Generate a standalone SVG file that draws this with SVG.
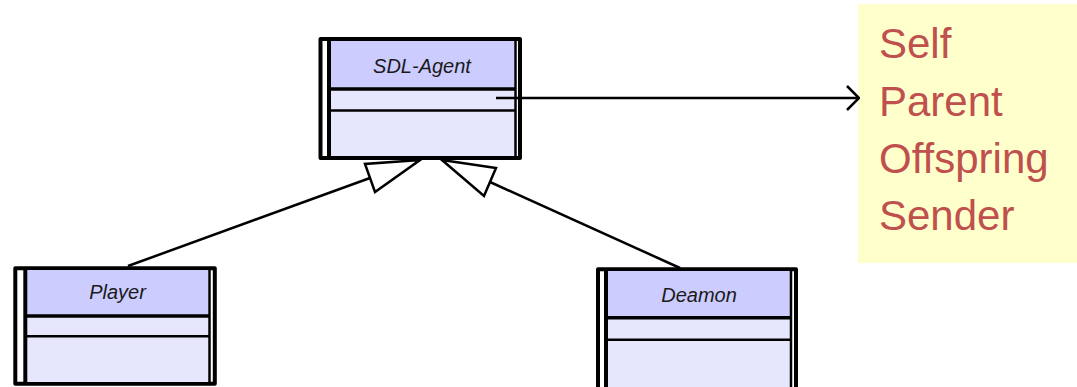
<svg xmlns="http://www.w3.org/2000/svg" width="1077" height="387" viewBox="0 0 1077 387">
  <style>
    .frame { fill: #ffffff; stroke: #000000; stroke-width: 4; stroke-linejoin: round; }
    .head { fill: #ccccff; }
    .body { fill: #e6e6fc; }
    .bar { stroke: #000000; stroke-width: 4; }
    .thin { stroke: #000000; stroke-width: 2.5; }
    .div1 { stroke: #000000; stroke-width: 3.5; }
    .div2 { stroke: #000000; stroke-width: 2.5; }
    .cname { font-family: "Liberation Sans", Arial, sans-serif; font-style: italic; font-size: 20px; fill: #1a1a1a; text-anchor: middle; }
    .note { fill: #ffffcc; }
    .ntext { font-family: "Liberation Sans", Arial, sans-serif; font-size: 42px; fill: #c0504d; }
    .edge { stroke: #000000; stroke-width: 2.5; fill: none; }
    .tri { stroke: #000000; stroke-width: 2.5; fill: #ffffff; stroke-linejoin: miter; }
  </style>
  <defs>
    <marker id="open" viewBox="0 0 14 26" refX="13" refY="13" markerWidth="14" markerHeight="26" markerUnits="userSpaceOnUse" orient="auto">
      <path d="M1,1 L13,13 L1,25" fill="none" stroke="#000000" stroke-width="2.5"/>
    </marker>
  </defs>

  <!-- attribute note -->
  <g id="note">
    <rect class="note" x="858" y="4" width="219" height="259"/>
    <text class="ntext" x="879" y="58">Self</text>
    <text class="ntext" x="879" y="116">Parent</text>
    <text class="ntext" x="879" y="173">Offspring</text>
    <text class="ntext" x="879" y="230">Sender</text>
  </g>

  <!-- active class SDL-Agent -->
  <g id="sdl-agent">
    <rect class="frame" x="320.5" y="39" width="199.5" height="119"/>
    <rect class="head" x="331" y="41" width="183.5" height="48"/>
    <rect class="body" x="331" y="89" width="183.5" height="67"/>
    <line class="bar" x1="329" y1="39" x2="329" y2="158"/>
    <line class="thin" x1="515.5" y1="39" x2="515.5" y2="158"/>
    <line class="div1" x1="331" y1="89" x2="515" y2="89"/>
    <line class="div2" x1="331" y1="110.5" x2="515" y2="110.5"/>
    <text class="cname" x="422" y="73">SDL-Agent</text>
  </g>

  <!-- active class Player -->
  <g id="player">
    <rect class="frame" x="15.3" y="268.3" width="199.5" height="115.4"/>
    <rect class="head" x="27" y="270" width="181.5" height="46"/>
    <rect class="body" x="27" y="316" width="181.5" height="66"/>
    <line class="bar" x1="25.3" y1="268.3" x2="25.3" y2="383.7"/>
    <line class="thin" x1="209.5" y1="268.3" x2="209.5" y2="383.7"/>
    <line class="div1" x1="27" y1="316" x2="210" y2="316"/>
    <line class="div2" x1="27" y1="336.3" x2="210" y2="336.3"/>
    <text class="cname" x="117.5" y="299">Player</text>
  </g>

  <!-- active class Deamon -->
  <g id="deamon">
    <rect class="frame" x="598" y="269.3" width="198" height="125"/>
    <rect class="head" x="608" y="271" width="182" height="47"/>
    <rect class="body" x="608" y="318" width="182" height="72"/>
    <line class="bar" x1="606" y1="269.3" x2="606" y2="394"/>
    <line class="thin" x1="791" y1="269.3" x2="791" y2="394"/>
    <line class="div1" x1="608" y1="317.7" x2="792" y2="317.7"/>
    <line class="div2" x1="608" y1="339.7" x2="792" y2="339.7"/>
    <text class="cname" x="699" y="301.5">Deamon</text>
  </g>

  <!-- connectors -->
  <g id="connectors">
    <line class="edge" x1="496" y1="98" x2="859" y2="98" marker-end="url(#open)"/>
    <line class="edge" x1="128" y1="266" x2="370" y2="178"/>
    <polygon class="tri" points="420,160 365,164 375,192"/>
    <line class="edge" x1="680" y1="268" x2="490" y2="182"/>
    <polygon class="tri" points="442,160 496,168 484,196"/>
  </g>
</svg>
